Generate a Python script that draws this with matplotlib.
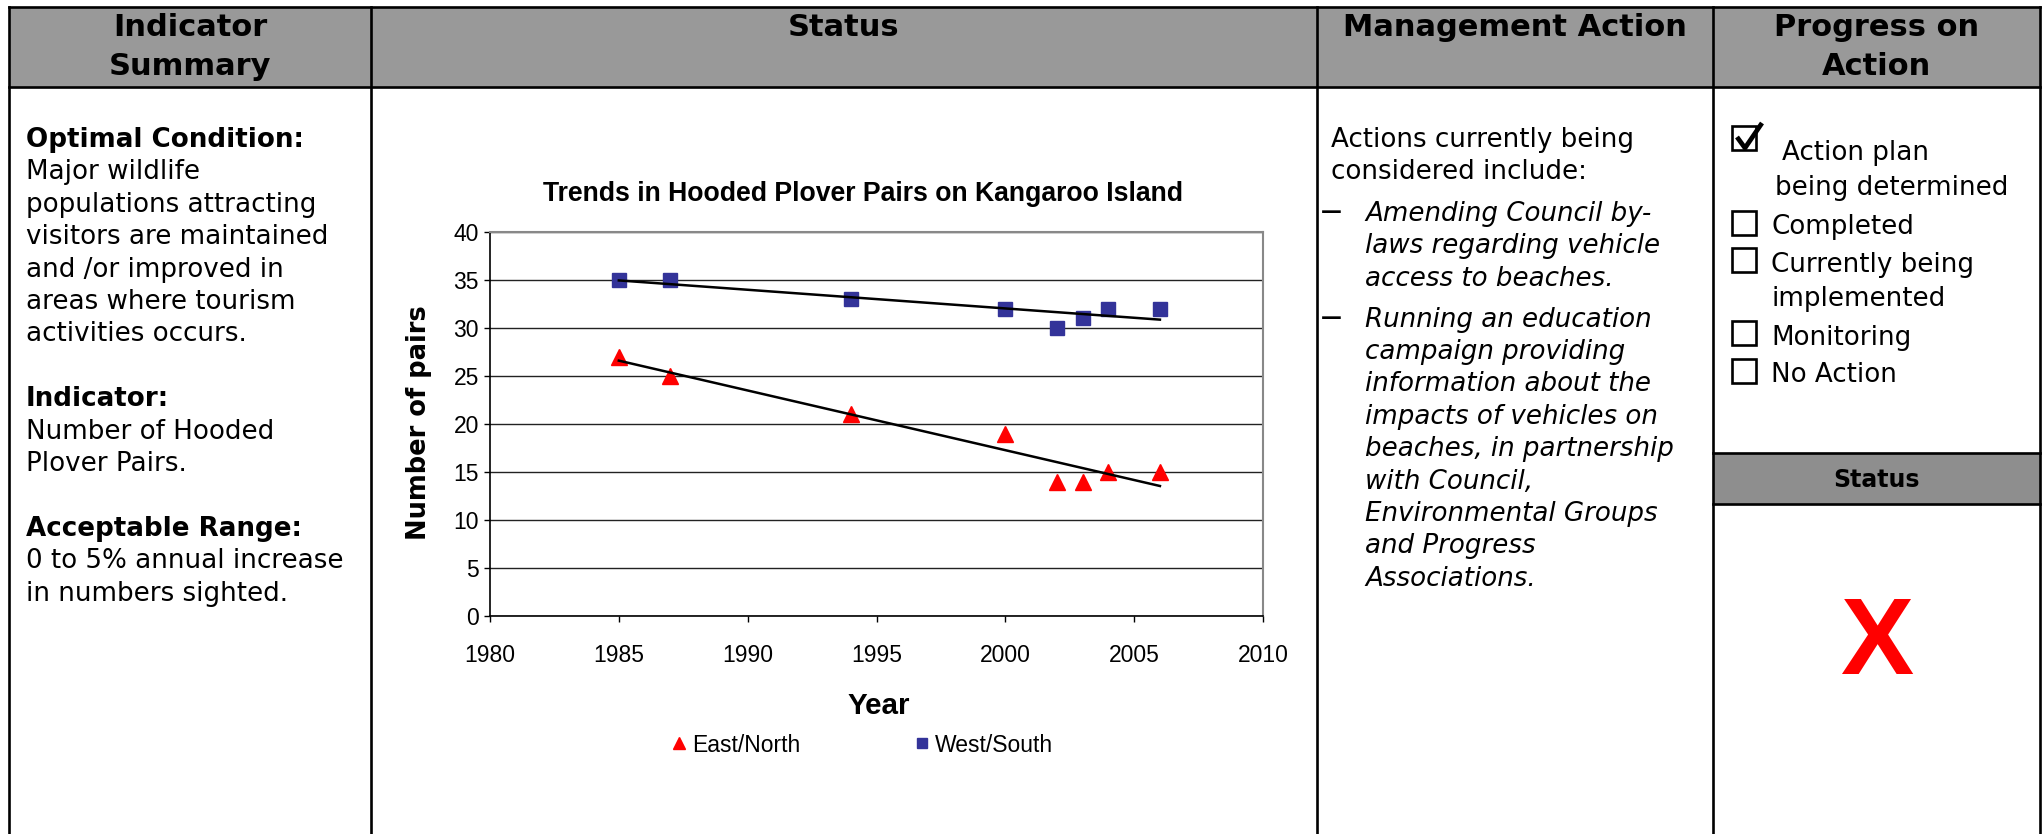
import matplotlib
matplotlib.use('Agg')
import matplotlib.pyplot as plt
from matplotlib import font_manager
from matplotlib.patches import Rectangle
from matplotlib.lines import Line2D
import numpy as np

# ---------------- data ----------------
years_east = [1985, 1987, 1994, 2000, 2002, 2003, 2004, 2006]
east_north = [27, 25, 21, 19, 14, 14, 15, 15]
years_west = [1985, 1987, 1994, 2000, 2002, 2003, 2004, 2006]
west_south = [35, 35, 33, 32, 30, 31, 32, 32]
x_ticks = [1980, 1985, 1990, 1995, 2000, 2005, 2010]
y_ticks = [0, 5, 10, 15, 20, 25, 30, 35, 40]
series_labels = ["East/North", "West/South"]
chart_title = "Trends in Hooded Plover Pairs on Kangaroo Island"

headers = ["Indicator\nSummary", "Status", "Management Action", "Progress on\nAction"]
summary_lines = [("Optimal Condition:", True), ("Major wildlife", False),
                 ("populations attracting", False), ("visitors are maintained", False),
                 ("and /or improved in", False), ("areas where tourism", False),
                 ("activities occurs.", False), ("", False),
                 ("Indicator:", True), ("Number of Hooded", False), ("Plover Pairs.", False),
                 ("", False), ("Acceptable Range:", True),
                 ("0 to 5% annual increase", False), ("in numbers sighted.", False)]
mgmt_intro = ["Actions currently being", "considered include:"]
mgmt_items = [["Amending Council by-", "laws regarding vehicle", "access to beaches."],
              ["Running an education", "campaign providing", "information about the",
               "impacts of vehicles on", "beaches, in partnership", "with Council,",
               "Environmental Groups", "and Progress", "Associations."]]
progress_items = [(["Action plan", "being determined"], True),
                  (["Completed"], False),
                  (["Currently being", "implemented"], False),
                  (["Monitoring"], False),
                  (["No Action"], False)]

# ---------------- fonts ----------------
names = {f.name for f in font_manager.fontManager.ttflist}
NARROW = 'Liberation Sans Narrow' in names
CHART_FONT = 'Liberation Sans Narrow' if NARROW else 'Liberation Sans'
CS = 1.0 if NARROW else 0.89
BODY = 'DejaVu Sans'
plt.rcParams['font.family'] = [CHART_FONT, 'DejaVu Sans']

W, H = 2042, 834
fig = plt.figure(figsize=(W / 100, H / 100), dpi=100)
fig.patch.set_facecolor('white')
bg = fig.add_axes([0, 0, 1, 1])
bg.set_xlim(0, W)
bg.set_ylim(H, 0)
bg.axis('off')

# ---------------- table frame ----------------
X0, X1, X2, X3, X4 = 9, 371, 1317, 1713, 2040
Y0, YH = 7, 87
bg.add_patch(Rectangle((X0, Y0), X4 - X0, YH - Y0, facecolor='#999999', edgecolor='none', zorder=1))
bg.add_patch(Rectangle((X3, 453), X4 - X3, 504 - 453, facecolor='#8e8e8e', edgecolor='none', zorder=1))
LW = 1.9
for y in (Y0, YH):
    bg.add_line(Line2D([X0, X4], [y, y], color='black', lw=LW, zorder=2))
for y in (453, 504):
    bg.add_line(Line2D([X3, X4], [y, y], color='black', lw=LW, zorder=2))
for x in (X0, X1, X2, X3, X4):
    bg.add_line(Line2D([x, x], [Y0, H + 5], color='black', lw=LW, zorder=2))

hdr_fs = 22
hdr_cx = [(X0 + X1) / 2, (X1 + X2) / 2, (X2 + X3) / 2, (X3 + X4) / 2]
for cx, h in zip(hdr_cx, headers):
    for i, line in enumerate(h.split("\n")):
        bg.text(cx, 27 + i * 39, line, ha='center', va='center', fontsize=hdr_fs,
                fontweight='bold', family=BODY, zorder=3)
bg.text((X3 + X4) / 2, 480, "Status", ha='center', va='center', fontsize=17,
        fontweight='bold', family=BODY, zorder=3)

# ---------------- left column ----------------
FS = 18.8
PITCH = 32.4
for i, (s, b) in enumerate(summary_lines):
    if s:
        bg.text(26, 147 + i * PITCH, s, va='baseline', ha='left', fontsize=FS,
                fontweight='bold' if b else 'normal', family=BODY)

# ---------------- management column ----------------
for i, s in enumerate(mgmt_intro):
    bg.text(1331, 147 + i * PITCH, s, va='baseline', ha='left', fontsize=FS, family=BODY)
item_starts = [221, 326.5]
for start, item in zip(item_starts, mgmt_items):
    bg.text(1321, start - 3, "\u2014", va='baseline', ha='left', fontsize=15,
            fontweight='bold', family=BODY)
    for i, s in enumerate(item):
        bg.text(1365, start + i * PITCH, s, va='baseline', ha='left', fontsize=FS,
                style='italic', family=BODY)

# ---------------- progress column ----------------
prog_rows = [(138, [(1782, 160), (1775, 195)]),
             (223, [(1771, 234)]),
             (260, [(1771, 272), (1771, 306)]),
             (333, [(1771, 345)]),
             (371, [(1771, 382)])]
for (box_cy, pos), (texts, checked) in zip(prog_rows, progress_items):
    bs = 24
    bg.add_patch(Rectangle((1732, box_cy - bs / 2), bs, bs, facecolor='none',
                           edgecolor='black', lw=1.9, zorder=3))
    if checked:
        bg.add_line(Line2D([1737, 1745, 1762], [137, 148, 123], color='black', lw=3.4,
                           solid_capstyle='butt', zorder=4))
    for (tx, ty), s in zip(pos, texts):
        bg.text(tx, ty, s, va='baseline', ha='left', fontsize=FS, family=BODY)

bg.text((X3 + X4) / 2, 646, "X", ha='center', va='center', fontsize=79, fontweight='bold',
        color='#ff0000', family='Liberation Sans')

# ---------------- chart ----------------
AL, AR, AT, AB = 490, 1263, 232, 616
ax = fig.add_axes([AL / W, 1 - AB / H, (AR - AL) / W, (AB - AT) / H])
ax.set_xlim(x_ticks[0], x_ticks[-1])
ax.set_ylim(y_ticks[0], y_ticks[-1])
ax.set_xticks(x_ticks)
ax.set_yticks(y_ticks)
ax.yaxis.grid(True, color='#222222', lw=1.0)
ax.set_axisbelow(True)
ax.set_facecolor('none')

ax.plot(years_east, east_north, linestyle='none', marker='^', markersize=12,
        color='#ff0000', label=series_labels[0], zorder=2)
ax.plot(years_west, west_south, linestyle='none', marker='s', markersize=9.5,
        color='#333399', label=series_labels[1], zorder=2)
for xs, ys in ((years_east, east_north), (years_west, west_south)):
    p = np.polyfit(xs, ys, 1)
    ex = np.array([min(xs), max(xs)])
    ax.plot(ex, np.polyval(p, ex), color='black', lw=1.8, zorder=3)

for side in ('left', 'bottom'):
    ax.spines[side].set_color('black')
    ax.spines[side].set_linewidth(1.2)
for side in ('top', 'right'):
    ax.spines[side].set_color('#888888')
    ax.spines[side].set_linewidth(1.5)

tfs = 18.5 * CS
ax.tick_params(axis='y', direction='out', length=4, width=1, pad=4, labelsize=tfs)
ax.tick_params(axis='x', direction='out', length=4, width=1, pad=16, labelsize=tfs)

ax.set_title(chart_title, fontsize=21.5 * CS, fontweight='bold', x=(863 - AL) / (AR - AL),
             y=(AB - 194) / (AB - AT), va='center', pad=0)
ax.set_xlabel("Year", fontsize=24 * CS, fontweight='bold')
ax.xaxis.set_label_coords((879 - AL) / (AR - AL), (AB - 706) / (AB - AT))
ax.xaxis.label.set_va('center')
ax.set_ylabel("Number of pairs", fontsize=18.5, fontweight='bold', family=BODY)
ax.yaxis.set_label_coords((419 - AL) / (AR - AL), (AB - 423) / (AB - AT))
ax.yaxis.label.set_va('center')

ax.legend(loc='center', bbox_to_anchor=(862 / W, 1 - 745 / H), bbox_transform=fig.transFigure,
          ncol=2, frameon=False, handlelength=0.7, handletextpad=0.2, columnspacing=5.0,
          fontsize=18.5 * CS, markerscale=0.75)

fig.savefig('out.png', dpi=100)
